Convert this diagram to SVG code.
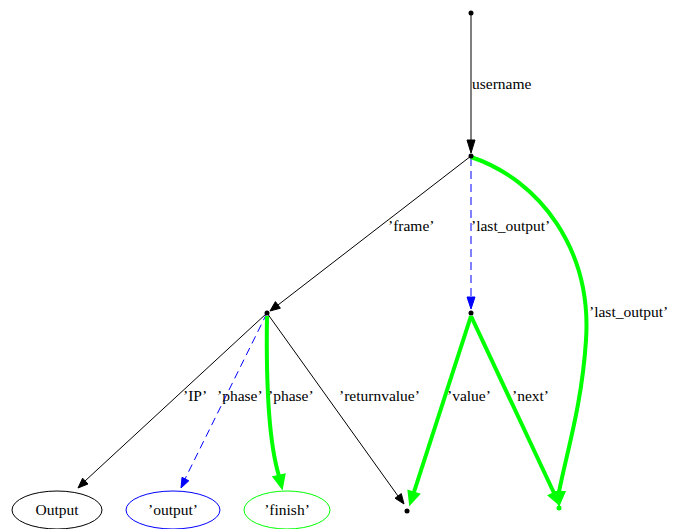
<svg xmlns="http://www.w3.org/2000/svg" width="684" height="529" viewBox="0 0 684 529">
<style>
text{font-family:"Liberation Serif","Times New Roman",serif;font-size:15.5px;fill:#000}
.e{fill:none;stroke:#000;stroke-width:1}
.b{fill:none;stroke:#0000ff;stroke-width:1;stroke-dasharray:8,5}
.g{fill:none;stroke:#00ff00;stroke-width:4}
.ha{fill:#000;stroke:#000}
.hb{fill:#0000ff;stroke:#0000ff}
.hg{fill:#00ff00;stroke:#00ff00;stroke-width:2}
.pt{fill:#000}
.mid{text-anchor:middle}
</style>
<rect width="684" height="529" fill="#fff"/>
<g id="connectors">
<path class="e" d="M471,13 L471,140"/>
<polygon class="ha" points="467,140 475,140 471,153"/>
<text x="472" y="89">username</text>

<path class="e" d="M471,156 L278,305"/>
<polygon class="ha" points="280.4,308.2 275.4,301.6 270,311"/>
<text x="388" y="231">’frame’</text>

<path class="b" d="M471,158 L471,297"/>
<polygon class="hb" points="467,297 475,297 471,309"/>
<text x="471" y="231">’last_output’</text>

<path class="g" d="M471,157 C540,180 592,250 586,340 C582,405 566,455 559,492"/>
<polygon class="hg" points="553.5,492 564.5,492 559,505"/>
<text x="589" y="317">’last_output’</text>

<path class="e" d="M267,313 L85,481"/>
<polygon class="ha" points="88,484 82.6,478.2 78,488"/>
<text x="183" y="401">’IP’</text>

<path class="b" d="M267,313 L185,479"/>
<polygon class="hb" points="188.8,480.8 182,477.3 181,488"/>
<text x="217" y="401">’phase’</text>

<path class="g" d="M267,316 C266,380 268,440 279,476"/>
<polygon class="hg" points="273.5,477 284.5,474.5 282,488"/>
<text x="268" y="401">’phase’</text>

<path class="e" d="M267,313 L398,496"/>
<polygon class="ha" points="401.3,493.6 395,498.2 404,504"/>
<text x="339" y="401">’returnvalue’</text>

<path class="g" d="M471,316 L414,492"/>
<polygon class="hg" points="419,494.3 408.5,490.9 410,504"/>
<text x="447" y="401">’value’</text>

<path class="g" d="M471,316 L554,493"/>
<polygon class="hg" points="558.9,490.8 548.9,495.4 559,504"/>
<text x="512" y="401">’next’</text>
</g>
<g id="n_top"><circle class="pt" cx="471" cy="13" r="2.5"/></g>
<g id="n_mid"><circle class="pt" cx="471" cy="156" r="2.5"/></g>
<g id="n_left"><circle class="pt" cx="267" cy="313" r="2.5"/></g>
<g id="n_mid2"><circle class="pt" cx="471" cy="313" r="2.5"/></g>
<g id="n_bot"><circle class="pt" cx="407" cy="511" r="2.5"/></g>
<g id="n_botr"><circle cx="559" cy="508" r="2.5" fill="#00ff00"/></g>
<g id="n_Output"><ellipse cx="57" cy="510" rx="45" ry="19" fill="none" stroke="#000"/><text class="mid" x="57" y="515">Output</text></g>
<g id="n_output"><ellipse cx="173" cy="510" rx="47" ry="19" fill="none" stroke="#0000ff"/><text class="mid" x="173" y="515">’output’</text></g>
<g id="n_finish"><ellipse cx="287" cy="510" rx="43" ry="19" fill="none" stroke="#00ff00"/><text class="mid" x="287" y="515">’finish’</text></g>
</svg>
